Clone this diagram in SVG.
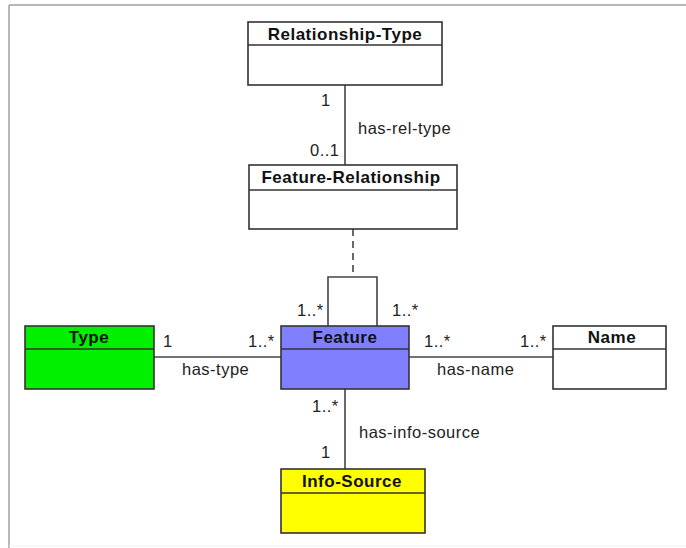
<svg xmlns="http://www.w3.org/2000/svg" width="686" height="548" viewBox="0 0 686 548">
<style>
.box{stroke:#333;stroke-width:1.6}
.div{stroke:#333;stroke-width:1.6}
.t{font-family:"Liberation Sans",Arial,sans-serif;font-size:16.5px;letter-spacing:0.5px;fill:#222}
.h{font-family:"Liberation Sans",Arial,sans-serif;font-size:17px;letter-spacing:0.5px;font-weight:bold;fill:#111;text-anchor:middle}
.ln{stroke:#444;stroke-width:1.6;fill:none}
</style>
<rect x="0" y="0" width="686" height="548" fill="#fff"/>
<g id="frame">
<line x1="9" y1="5" x2="686" y2="5" stroke="#a0a0a0" stroke-width="1.5"/>
<line x1="9" y1="5" x2="9" y2="548" stroke="#a0a0a0" stroke-width="1.5"/>
<line x1="9" y1="546" x2="686" y2="546" stroke="#eeeeee" stroke-width="1"/>
</g>
<g id="connectors">
<line class="ln" x1="345" y1="85" x2="345" y2="165"/>
<line class="ln" x1="353" y1="229" x2="353" y2="277" stroke-dasharray="7,5"/>
<polyline class="ln" points="328,326 328,277 377,277 377,326"/>
<line class="ln" x1="154" y1="357" x2="281" y2="357"/>
<line class="ln" x1="409" y1="357" x2="553" y2="357"/>
<line class="ln" x1="345" y1="389" x2="345" y2="469"/>
<text class="t" x="321" y="106">1</text>
<text class="t" x="358" y="134">has-rel-type</text>
<text class="t" x="310" y="156">0..1</text>
<text class="t" x="297" y="316">1..*</text>
<text class="t" x="392" y="316">1..*</text>
<text class="t" x="163" y="347">1</text>
<text class="t" x="248" y="347">1..*</text>
<text class="t" x="182" y="375">has-type</text>
<text class="t" x="424" y="347">1..*</text>
<text class="t" x="520" y="347">1..*</text>
<text class="t" x="437" y="375">has-name</text>
<text class="t" x="312" y="412">1..*</text>
<text class="t" x="359" y="438">has-info-source</text>
<text class="t" x="321" y="458">1</text>
</g>
<g id="relationship-type">
<rect class="box" x="248" y="22" width="194" height="63" fill="#fff"/>
<line class="div" x1="248" y1="45" x2="442" y2="45"/>
<text class="h" x="345" y="40">Relationship-Type</text>
</g>
<g id="feature-relationship">
<rect class="box" x="249" y="165" width="208" height="64" fill="#fff"/>
<line class="div" x1="249" y1="190" x2="457" y2="190"/>
<text class="h" x="351" y="183">Feature-Relationship</text>
</g>
<g id="type">
<rect class="box" x="25" y="326" width="129" height="63" fill="#00f000"/>
<line class="div" x1="25" y1="349" x2="154" y2="349"/>
<text class="h" x="89" y="343">Type</text>
</g>
<g id="feature">
<rect class="box" x="281" y="326" width="128" height="63" fill="#8080ff"/>
<line class="div" x1="281" y1="349" x2="409" y2="349"/>
<text class="h" x="345" y="343">Feature</text>
</g>
<g id="name">
<rect class="box" x="553" y="326" width="113" height="63" fill="#fff"/>
<line class="div" x1="553" y1="349" x2="666" y2="349"/>
<text class="h" x="612" y="343">Name</text>
</g>
<g id="info-source">
<rect class="box" x="281" y="469" width="144" height="64" fill="#ffff00"/>
<line class="div" x1="281" y1="493" x2="425" y2="493"/>
<text class="h" x="352" y="487">Info-Source</text>
</g>
</svg>
